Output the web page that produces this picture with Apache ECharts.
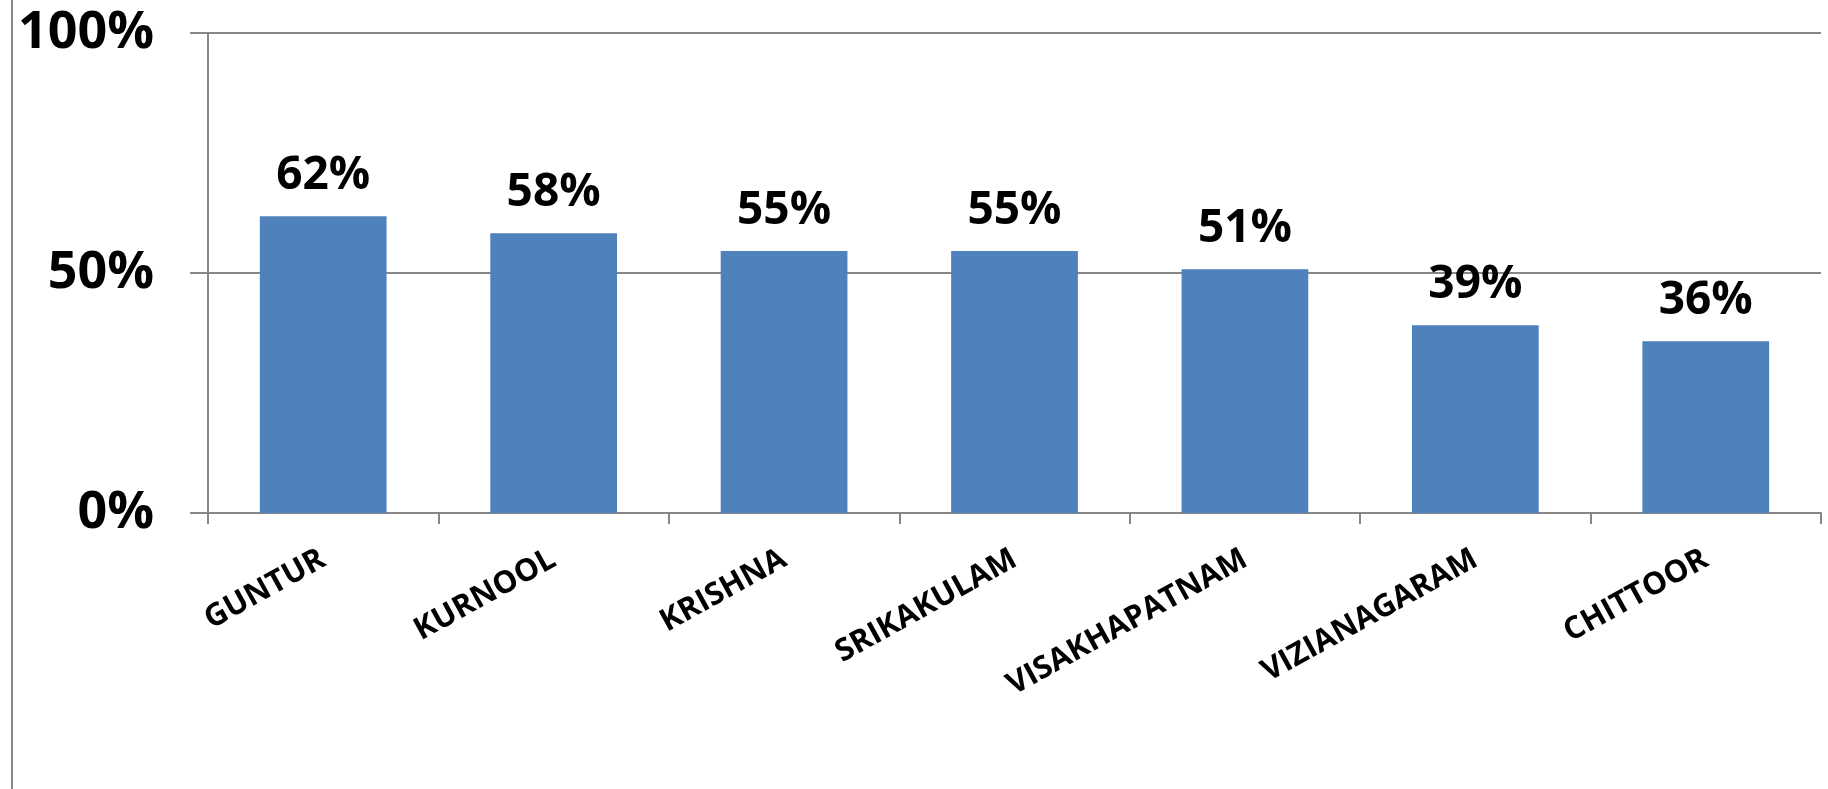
<!DOCTYPE html>
<html>
<head>
<meta charset="utf-8">
<title>District share</title>
<script src="https://cdn.jsdelivr.net/npm/echarts@6/dist/echarts.min.js"></script>
<style>
  html, body { margin: 0; padding: 0; background: #fff; }
  #chart { width: 1828px; height: 789px; }
</style>
</head>
<body>
<div id="chart"></div>
<script>
// values (percent)
const districts = ['GUNTUR', 'KURNOOL', 'KRISHNA', 'SRIKAKULAM', 'VISAKHAPATNAM', 'VIZIANAGARAM', 'CHITTOOR']
const shares = [61.8, 58.3, 54.6, 54.6, 50.8, 39.1, 35.8]
const yTicks = [0, 50, 100]

const font = '"Open Sans", "Noto Sans", sans-serif'
const gray = '#878787'

const chart = echarts.init(document.getElementById('chart'), null, { renderer: 'canvas' })

chart.setOption({
  animation: false,
  backgroundColor: '#fff',
  grid: {
    left: 208,
    right: 7,
    top: 33,
    bottom: 276,
    containLabel: false
  },
  graphic: [
    {
      type: 'line',
      shape: { x1: 12, y1: 0, x2: 12, y2: 789 },
      style: { stroke: gray, lineWidth: 2 }
    }
  ],
  xAxis: {
    type: 'category',
    data: districts,
    axisLine: { show: true, lineStyle: { color: gray, width: 2 } },
    axisTick: { show: true, alignWithLabel: false, length: 11, lineStyle: { color: gray, width: 2 } },
    axisLabel: {
      interval: 0,
      rotate: 29,
      margin: 44,
      color: '#000',
      fontSize: 31,
      fontWeight: 'bold',
      fontFamily: font
    }
  },
  yAxis: {
    type: 'value',
    min: yTicks[0],
    max: yTicks[yTicks.length - 1],
    interval: 50,
    axisLine: { show: true, lineStyle: { color: gray, width: 2 } },
    axisTick: { show: true, length: 18, lineStyle: { color: gray, width: 2 } },
    splitLine: { show: true, lineStyle: { color: gray, width: 2 } },
    axisLabel: {
      margin: 54,
      color: '#000',
      fontSize: 52,
      fontWeight: 'bold',
      fontFamily: font,
      formatter: v => v + '%'
    }
  },
  series: [
    {
      type: 'bar',
      data: shares,
      barCategoryGap: '45%',
      itemStyle: { color: '#4f81bd' },
      label: {
        show: true,
        position: 'top',
        distance: 17,
        color: '#000',
        fontSize: 46,
        fontWeight: 'bold',
        fontFamily: font,
        formatter: p => Math.round(p.value) + '%'
      }
    }
  ]
})
</script>
</body>
</html>
